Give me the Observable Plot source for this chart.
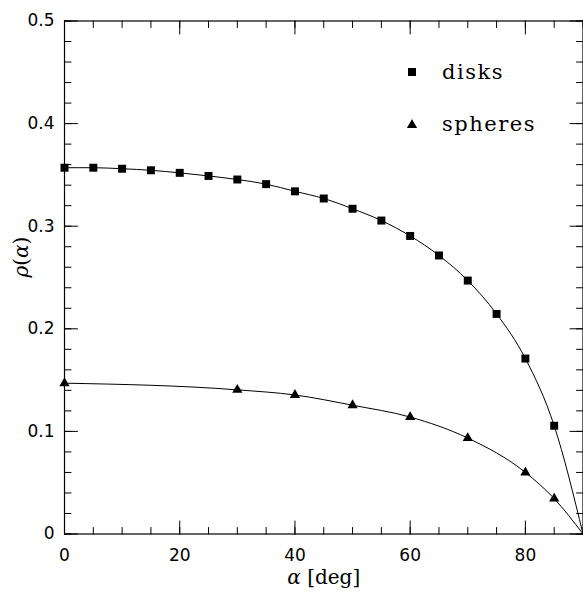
<!DOCTYPE html>
<html><head><meta charset="utf-8">
<script src="https://cdn.jsdelivr.net/npm/d3@7"></script>
<script src="https://cdn.jsdelivr.net/npm/@observablehq/plot@0.6"></script>
<style>body{margin:0;background:#fff;}</style>
</head><body><div id="chart"></div>
<script>
// ---- data ----
const diskAngles = [0,5,10,15,20,25,30,35,40,45,50,55,60,65,70,75,80,85];
const diskRho = [0.357,0.357,0.356,0.3545,0.352,0.349,0.3455,0.341,0.334,0.327,0.317,0.3055,0.2905,0.2715,0.247,0.2145,0.171,0.1055];
const sphereAngles = [0,30,40,50,60,70,80,85];
const sphereRho = [0.147,0.1405,0.1355,0.1255,0.114,0.0935,0.060,0.0345];
// both fitted curves end at (90, 0)
const curveEndAngle = 90;
const curveEndRho = 0;
const seriesNames = ["disks", "spheres"];
const xMajor = [0,20,40,60,80];
const xMinor = [0,5,10,15,20,25,30,35,40,45,50,55,60,65,70,75,80,85,90];
const yMajor = [0,0.1,0.2,0.3,0.4,0.5];
const yMinor = [0,0.02,0.04,0.06,0.08,0.1,0.12,0.14,0.16,0.18,0.2,0.22,0.24,0.26,0.28,0.3,0.32,0.34,0.36,0.38,0.4,0.42,0.44,0.46,0.48,0.5];
const xLabel = "α [deg]";
const yLabel = "ρ(α)";

const disks = diskAngles.map((a,i)=>({angle:a, rho:diskRho[i]}));
const spheres = sphereAngles.map((a,i)=>({angle:a, rho:sphereRho[i]}));
const diskCurve = [...disks, {angle:curveEndAngle, rho:curveEndRho}];
const sphereCurve = [...spheres, {angle:curveEndAngle, rho:curveEndRho}];

const tickShape = {draw(ctx, l){ ctx.moveTo(0,0); ctx.lineTo(0,-l); }};
const tickFont = "DejaVu Sans, sans-serif";
const serif = "DejaVu Serif, serif";
const MAJ = 13, MIN = 6.5;

function ticksX(vals, len, side){
  return Plot.vectorX(vals, {x: d=>d, frameAnchor: side, length: len, rotate: side==="bottom"?0:180, anchor:"start", shape: tickShape, stroke:"black", strokeWidth:1});
}
function ticksY(vals, len, side){
  return Plot.vectorY(vals, {y: d=>d, frameAnchor: side, length: len, rotate: side==="left"?90:-90, anchor:"start", shape: tickShape, stroke:"black", strokeWidth:1});
}

const plot = Plot.plot({
  width: 583, height: 593,
  marginLeft: 64, marginRight: 0.5, marginTop: 20.5, marginBottom: 59.5,
  x: {domain:[0,90]},
  y: {domain:[0,0.5]},
  style: {fontFamily: tickFont, background:"white", overflow:"visible"},
  marks: [
    Plot.axisX(xMajor, {tickSize:0, tickPadding:14.5, label:null, fontSize:17, fontFamily:tickFont, tickFormat: d=>String(d)}),
    Plot.axisY(yMajor, {tickSize:0, tickPadding:10, label:null, fontSize:17, fontFamily:tickFont, tickFormat: d=> d===0 ? "0" : d.toFixed(1)}),
    ticksX(xMinor, MIN, "bottom"), ticksX(xMajor, MAJ, "bottom"),
    ticksX(xMinor, MIN, "top"), ticksX(xMajor, MAJ, "top"),
    ticksY(yMinor, MIN, "left"), ticksY(yMajor, MAJ, "left"),
    ticksY(yMinor, MIN, "right"), ticksY(yMajor, MAJ, "right"),
    Plot.frame({stroke:"black", strokeWidth:1.2}),
    Plot.line(diskCurve, {x:"angle", y:"rho", curve:"monotone-x", stroke:"black", strokeWidth:1}),
    Plot.line(sphereCurve, {x:"angle", y:"rho", curve:"monotone-x", stroke:"black", strokeWidth:1}),
    Plot.dot(disks, {x:"angle", y:"rho", symbol:"square", r:4.5, fill:"black"}),
    Plot.dot(spheres, {x:"angle", y:"rho", symbol:"triangle", r:3.8, fill:"black"}),
    // legend
    Plot.dot([seriesNames[0]], {frameAnchor:"top-right", dx:-171, dy:51, symbol:"square", r:4.5, fill:"black"}),
    Plot.dot([seriesNames[1]], {frameAnchor:"top-right", dx:-171, dy:104, symbol:"triangle", r:3.8, fill:"black"}),
    Plot.text([seriesNames[0]], {text:d=>d, frameAnchor:"top-right", dx:-141, dy:51, textAnchor:"start", lineAnchor:"middle", fontSize:21, fontFamily:serif, fill:"black"}),
    Plot.text([seriesNames[1]], {text:d=>d, frameAnchor:"top-right", dx:-141, dy:103, textAnchor:"start", lineAnchor:"middle", fontSize:21, fontFamily:serif, fill:"black"}),
    // axis labels
    Plot.text([xLabel], {text:d=>d, frameAnchor:"bottom", dy:44, lineAnchor:"middle", fontSize:20, fontFamily:serif, fill:"black"}),
    Plot.text([yLabel], {text:d=>d, frameAnchor:"left", dx:-43, rotate:-90, lineAnchor:"middle", fontSize:20, fontFamily:serif, fill:"black"})
  ]
});

// italic Greek letters, upright punctuation
d3.select(plot).selectAll("text").each(function(){
  const t = this.textContent;
  if (t === xLabel || t === yLabel) {
    const sel = d3.select(this);
    sel.text(null);
    for (const ch of t) {
      sel.append("tspan").attr("font-style", /[α-ω]/.test(ch) ? "italic" : "normal").attr("font-family", serif).text(ch);
    }
  }
  if (t === seriesNames[0] || t === seriesNames[1]) d3.select(this).attr("letter-spacing", "1.5px");
});

document.getElementById("chart").appendChild(plot);
</script>
</body></html>
